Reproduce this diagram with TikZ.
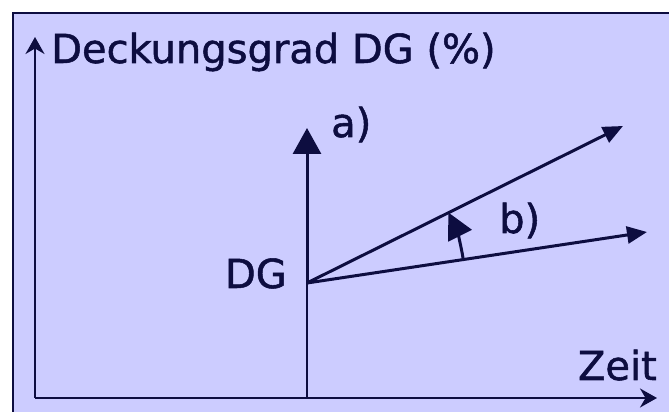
\documentclass[tikz,border=0pt]{standalone}
\usepackage{fontspec}
\setmainfont[FakeBold=1.3]{DejaVu Sans}
\usetikzlibrary{arrows.meta}
\definecolor{bgc}{HTML}{CCCCFF}
\definecolor{ink}{HTML}{0D0D40}
\tikzset{
  axisline/.style={draw=ink, line width=2pt, -{Stealth[length=17pt,width=19pt]}},
  thinline/.style={draw=ink, line width=1.6pt},
  bigarrow/.style={draw=ink, line width=3pt, -{Triangle[length=26pt,width=28pt]}},
  slopearrow/.style={draw=ink, line width=3pt, -{Triangle[length=20pt,width=17pt]}},
  arcarrow/.style={draw=ink, line width=3pt, -{Triangle[length=26pt,width=26pt]}},
  lbl/.style={inner sep=0pt, text=ink, font=\fontsize{40}{44}\selectfont},
}
\begin{document}
\begin{tikzpicture}[x=1pt,y=1pt]
\useasboundingbox (0,0) rectangle (669,412);
\clip (0,0) rectangle (669,412);
\draw[fill=bgc, draw=ink, line width=2.5pt] (13,399) rectangle (720,-40);
% coordinates
\coordinate (O) at (35,14);
\coordinate (Ytop) at (35,375);
\coordinate (Xend) at (657,14);
\coordinate (DG) at (307,129);
\coordinate (Mbot) at (307,14);
\coordinate (Atip) at (307,284);
\coordinate (Utip) at (623,286);
\coordinate (Ltip) at (647,180);
% axes
\draw[axisline] (O) -- (Ytop);
\draw[axisline] (O) -- (Xend);
\draw[thinline] (Mbot) -- (DG);
% arrows
\draw[bigarrow] (DG) -- (Atip);
\draw[slopearrow] (DG) -- (Utip);
\draw[slopearrow] (DG) -- (Ltip);
\draw[arcarrow] ([shift={(8.5:158)}]DG) arc[start angle=8.5, end angle=26.5, radius=158];
% labels
\node[lbl, anchor=base west] (ylab) at (51,349) {Deckungsgrad DG (\%)};
\node[lbl, anchor=base east] (dglab) at (287,124) {DG};
\node[lbl, anchor=base west] (alab) at (331,275) {a)};
\node[lbl, anchor=base west] (blab) at (499,179) {b)};
\node[lbl, anchor=base east] (xlab) at (657,32) {Zeit};
\end{tikzpicture}
\end{document}
